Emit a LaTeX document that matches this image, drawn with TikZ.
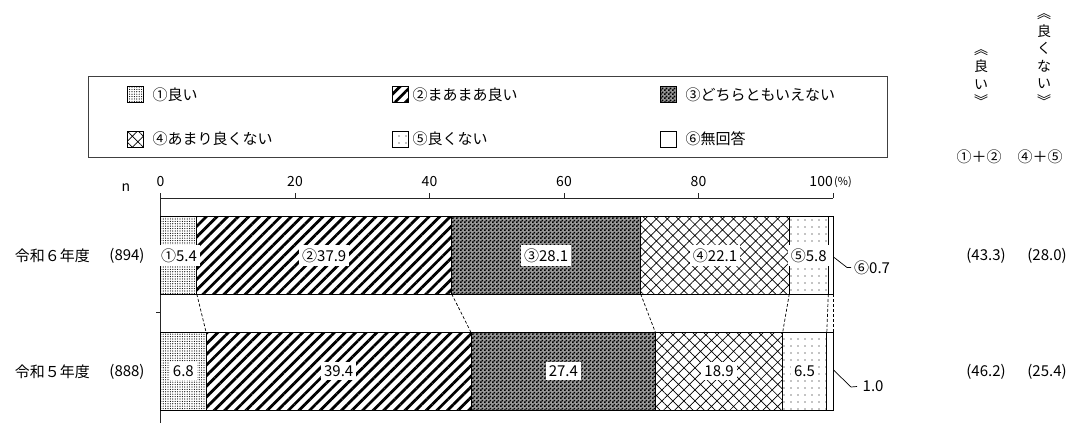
\documentclass[tikz,border=0pt]{standalone}
\usepackage{fontspec}
\setmainfont{Noto Sans CJK JP}
\usetikzlibrary{patterns,patterns.meta}

\pgfdeclarepattern{
  name=finecheck, type=uncolored,
  bottom left={\pgfpoint{0pt}{0pt}}, top right={\pgfpoint{4pt}{4pt}},
  tile size={\pgfpoint{4pt}{4pt}},
  code={\pgfpathrectangle{\pgfpointorigin}{\pgfpoint{2pt}{2pt}}
        \pgfpathrectangle{\pgfpoint{2pt}{2pt}}{\pgfpoint{2pt}{2pt}}
        \pgfusepath{fill}}}

\begin{document}
\begin{tikzpicture}[x=1pt,y=-1pt,
  s1/.style={pattern={Dots[distance=2.4pt,radius=0.6pt]}},
  s2/.style={pattern={Lines[angle=45,distance=7.5pt,line width=2.8pt]}},
  s3/.style={fill=black!40,postaction={pattern=finecheck}},
  s4/.style={pattern={Hatch[angle=45,distance=7.8pt,line width=0.7pt]}},
  s5/.style={pattern={Dots[distance=7pt,radius=0.7pt]}},
  s6/.style={fill=white},
  segline/.style={draw=black,line width=0.8pt},
  sw/.style={draw=black,line width=0.6pt,minimum size=16pt,inner sep=0pt},
  legtxt/.style={anchor=west,font=\fontsize{15}{17}\selectfont},
  cjk/.style={font=\fontsize{15}{17}\selectfont},
  txt/.style={font=\fontsize{15}{17}\selectfont},
  ticktxt/.style={font=\fontsize{14}{16}\selectfont},
  lbl/.style={fill=white,inner xsep=3pt,inner ysep=3.5pt,font=\fontsize{15}{17}\selectfont},
  conn/.style={line width=0.7pt,dash pattern=on 3pt off 2pt},
  lead/.style={line width=0.7pt},
  axis/.style={line width=0.8pt,draw=black!85},
  vtxt/.style={align=center,font=\fontsize{14}{17.5}\selectfont}]
\useasboundingbox (0,0) rectangle (1072,423);

% ---------- legend ----------
\node[draw=black!75,line width=1.2pt,minimum width=799pt,minimum height=81.3pt,inner sep=0pt,anchor=north west] (legend) at (88,75.7) {};
\node[sw,s1] (k1) at (135,94) {};
\node[legtxt] (t1) at (149,95) {①良い};
\node[sw,s2] (k2) at (400,94) {};
\node[legtxt] (t2) at (409,95) {②まあまあ良い};
\node[sw,s3] (k3) at (668,94) {};
\node[legtxt] (t3) at (682,95) {③どちらともいえない};
\node[sw,s4] (k4) at (135,139) {};
\node[legtxt] (t4) at (149,139) {④あまり良くない};
\node[sw,s5] (k5) at (400,139) {};
\node[legtxt] (t5) at (409,139) {⑤良くない};
\node[sw,s6] (k6) at (668,139) {};
\node[legtxt] (t6) at (682,139) {⑥無回答};

% ---------- right header ----------
\node[vtxt] (vgood) at (981,78) {︽\\良\\い\\︾};
\node[vtxt] (vbad) at (1044,60) {︽\\良\\く\\な\\い\\︾};
\node[txt] (sum12) at (979,157) {①＋②};
\node[txt] (sum45) at (1040,157) {④＋⑤};

% ---------- axis ----------
\node[ticktxt] (n) at (126,188) {n};
\draw[axis] (160.5,198) -- (833,198);
\foreach \v in {0,20,40,60,80,100}{
  \draw[axis] ({160.5+6.725*\v},193) -- ({160.5+6.725*\v},198);
}
\foreach \v in {0,20,40,60,80}{
  \node[ticktxt] (tick\v) at ({160.5+6.725*\v},182) {\v};
}
\node[ticktxt,anchor=east,inner sep=0pt] (tick100) at (833,182) {100};
\node[anchor=west,inner sep=1pt,font=\fontsize{11}{13}\selectfont] (pct) at (833,182) {(\%)};
\draw[axis] (160.5,193) -- (160.5,423);
\draw[axis] (156,312.7) -- (160.5,312.7);

% ---------- bar 1 (令和6年度) ----------
\path[s1] (160.5,216.7) rectangle (196.8,294);
\path[s2] (196.8,216.7) rectangle (451.7,294);
\path[s3] (451.7,216.7) rectangle (640.7,294);
\path[s4] (640.7,216.7) rectangle (789.3,294);
\path[s5] (789.3,216.7) rectangle (828.3,294);
\path[s6] (828.3,216.7) rectangle (833,294);
\foreach \x in {196.8,451.7,640.7,789.3,828.3}{\draw[segline] (\x,216.7) -- (\x,294);}
\draw[segline] (160.5,216.7) rectangle (833,294);

% ---------- bar 2 (令和5年度) ----------
\path[s1] (160.5,332.7) rectangle (206.2,410);
\path[s2] (206.2,332.7) rectangle (471.2,410);
\path[s3] (471.2,332.7) rectangle (655.5,410);
\path[s4] (655.5,332.7) rectangle (782.6,410);
\path[s5] (782.6,332.7) rectangle (826.8,410);
\path[s6] (826.8,332.7) rectangle (833,410);
\foreach \x in {206.2,471.2,655.5,782.6,826.8}{\draw[segline] (\x,332.7) -- (\x,410);}
\draw[segline] (160.5,332.7) rectangle (833,410);

% ---------- dashed connectors ----------
\foreach \i/\a/\b in {1/196.8/206.2, 2/451.7/471.2, 3/640.7/655.5, 4/789.3/782.6, 5/828.3/826.8, 6/833/833}{
  \coordinate (u\i) at (\a,294);
  \coordinate (d\i) at (\b,332.7);
  \draw[conn] (u\i) -- (d\i);
}

% ---------- row labels ----------
\node[cjk,anchor=east,inner sep=0pt] (y6) at (90,255.35) {令和６年度};
\node[txt] (n6) at (127,255.35) {(894)};
\node[cjk,anchor=east,inner sep=0pt] (y5) at (90,371.35) {令和５年度};
\node[txt] (n5) at (127,371.35) {(888)};

% ---------- segment labels ----------
\node[lbl] (a1) at (179,255.35) {①5.4};
\node[lbl] (a2) at (324.25,255.35) {②37.9};
\node[lbl] (a3) at (546.2,255.35) {③28.1};
\node[lbl] (a4) at (715,255.35) {④22.1};
\node[lbl] (a5) at (808.8,255.35) {⑤5.8};
\node[lbl] (b1) at (183.35,371.35) {6.8};
\node[lbl] (b2) at (338.7,371.35) {39.4};
\node[lbl] (b3) at (563.35,371.35) {27.4};
\node[lbl] (b4) at (719.05,371.35) {18.9};
\node[lbl] (b5) at (804.45,371.35) {6.5};

% ---------- leaders for ⑥ ----------
\coordinate (r1) at (833.5,257);
\coordinate (r1a) at (847,267.5);
\node[txt,anchor=west,inner sep=3pt] (a6) at (851,267.5) {⑥0.7};
\draw[lead] (r1) -- (r1a) -- (a6.west);
\coordinate (r2) at (833.5,370);
\coordinate (r2a) at (851,387);
\node[txt,anchor=west,inner sep=3pt] (b6) at (857,386.5) {\,1.0};
\draw[lead] (r2) -- (r2a) -- (b6.west);

% ---------- right values ----------
\node[txt] (g6) at (986,255.35) {(43.3)};
\node[txt] (w6) at (1047,255.35) {(28.0)};
\node[txt] (g5) at (986,371.35) {(46.2)};
\node[txt] (w5) at (1047,371.35) {(25.4)};
\end{tikzpicture}
\end{document}
